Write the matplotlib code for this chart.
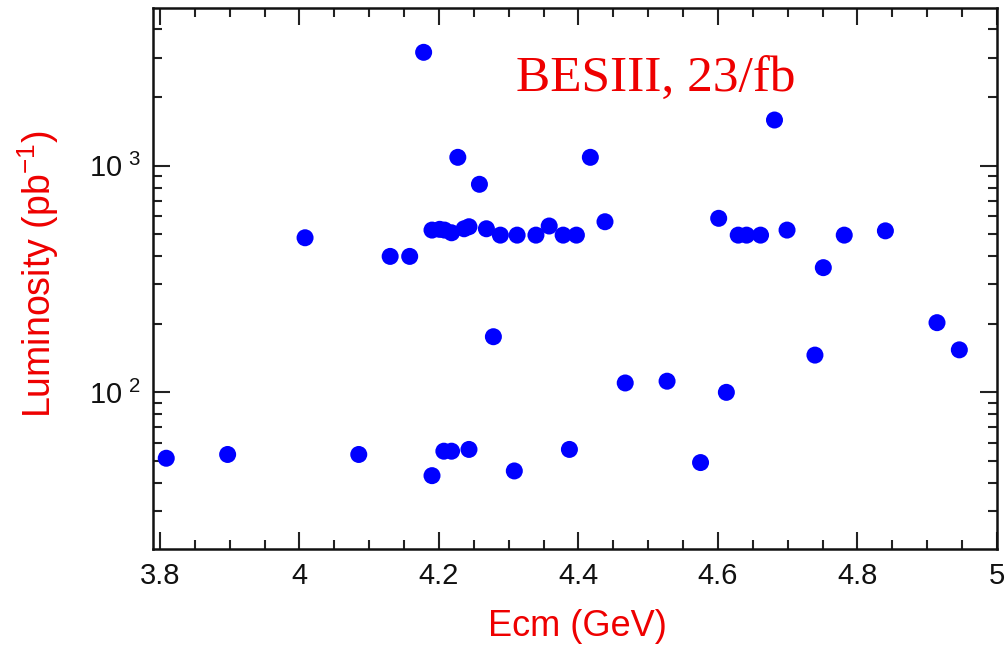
import matplotlib
matplotlib.use("Agg")
import matplotlib.pyplot as plt
from matplotlib.ticker import FixedLocator, LogLocator, NullFormatter, MultipleLocator

plt.rcParams['font.family'] = ['Liberation Sans', 'DejaVu Sans']

# center-of-mass energies (GeV) and integrated luminosity (pb^-1)
ecm = [3.809, 3.897, 4.008, 4.085, 4.130, 4.158, 4.178, 4.190, 4.190, 4.201,
       4.208, 4.207, 4.218, 4.218, 4.227, 4.236, 4.243, 4.243, 4.258, 4.268,
       4.278, 4.288, 4.308, 4.312, 4.339, 4.358, 4.378, 4.387, 4.397, 4.417,
       4.438, 4.467, 4.527, 4.575, 4.601, 4.612, 4.629, 4.641, 4.661, 4.681,
       4.699, 4.739, 4.751, 4.781, 4.840, 4.914, 4.946]
lumi = [51.2, 53.2, 481, 53.2, 398, 398, 3165, 520, 42.9, 524,
        520, 55, 506, 55, 1089, 527, 538, 56, 828, 527,
        176, 494, 45, 494, 494, 542, 494, 56, 494, 1089,
        566, 110, 112, 49, 586, 100, 494, 494, 494, 1591,
        520, 146, 355, 494, 516, 203, 154]

ytick_vals = [100, 1000]
ytick_labels = [r'$\mathregular{10^{\ 2}}$', r'$\mathregular{10^{\ 3}}$']
xtick_vals = [3.8, 4.0, 4.2, 4.4, 4.6, 4.8, 5.0]
xtick_labels = ['3.8', '4', '4.2', '4.4', '4.6', '4.8', '5']

fig = plt.figure(figsize=(10.05, 6.47), dpi=100)
ax = fig.add_axes([153 / 1005, 1 - 549.3 / 647, (997 - 153) / 1005, (549.3 - 8.3) / 647])

ax.scatter(ecm, lumi, s=150, color='#0000ff', edgecolors='none', zorder=3)

ax.set_yscale('log')
ax.set_xlim(3.79, 5.0)
ax.set_ylim(20.3, 4950)

ax.xaxis.set_major_locator(FixedLocator(xtick_vals))
ax.set_xticklabels(xtick_labels)
ax.xaxis.set_minor_locator(MultipleLocator(0.05))
ax.yaxis.set_major_locator(FixedLocator(ytick_vals))
ax.set_yticklabels(ytick_labels)
ax.yaxis.set_minor_locator(LogLocator(base=10, subs=range(2, 10)))
ax.yaxis.set_minor_formatter(NullFormatter())

ax.tick_params(which='both', direction='in', top=True, right=True, width=1.5, colors='#222222')
ax.tick_params(which='major', length=12, pad=9, labelsize=21, labelcolor='#111111')
ax.tick_params(which='minor', length=6.5)
for sp in ax.spines.values():
    sp.set_linewidth(1.8)
    sp.set_color('#111111')

ax.text(0.43, 0.845, 'BESIII, 23/fb', transform=ax.transAxes, color='#ee0000',
        fontsize=37, family=['Liberation Serif', 'DejaVu Serif'], ha='left', va='baseline')

fig.text(38 / 1005, 1 - 274 / 647, r'Luminosity (pb$^{\mathregular{-1}}$)', rotation=90,
         ha='center', va='center', color='#ee0000', fontsize=27)
fig.text(577 / 1005, 1 - 627 / 647, 'Ecm (GeV)', ha='center', va='center',
         color='#ee0000', fontsize=26)

fig.savefig('out.png', dpi=100)
